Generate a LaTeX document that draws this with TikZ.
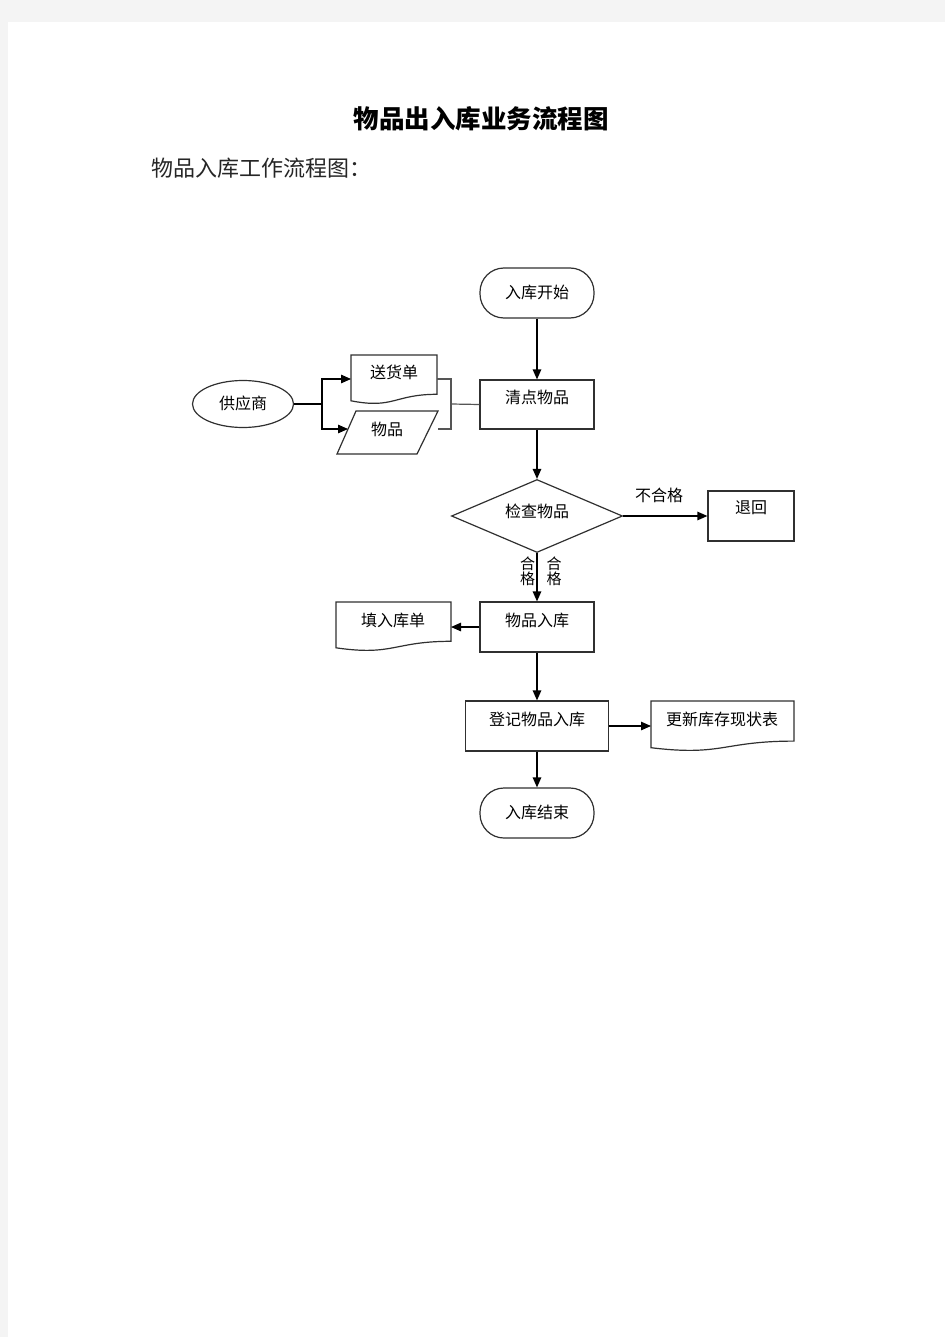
\documentclass[tikz,border=0pt]{standalone}
\usepackage{fontspec}
\newfontfamily\cjk{Noto Sans CJK SC}
\usetikzlibrary{shapes.geometric,arrows.meta,calc}
\definecolor{bgc}{HTML}{F4F4F4}
\definecolor{linec}{HTML}{303030}
\definecolor{brc}{HTML}{555555}
\tikzset{
  shp/.style={draw=linec, line width=1.2pt, fill=white, inner sep=0pt},
  box/.style={shp, rectangle, minimum width=#1, minimum height=50pt},
  term/.style={shp, rectangle, rounded corners=24pt, minimum width=114pt, minimum height=50pt},
  txt/.style={font=\cjk\fontsize{16pt}{17pt}\selectfont, inner sep=0pt},
  smalltxt/.style={font=\cjk\fontsize{15pt}{13pt}\selectfont, inner sep=0pt, align=center},
  arr/.style={line width=1.2pt, draw=black, -{Triangle[length=10pt,width=8.5pt]}},
  plain/.style={line width=1.2pt, draw=black},
  bracketline/.style={line width=1.2pt, draw=brc},
  docpath/.style={draw=linec, line width=1.2pt, fill=white},
}
\begin{document}
\begin{tikzpicture}[x=1pt,y=-1pt]
\fill[bgc] (0,0) rectangle (945,1337);
\fill[white] (8,22) rectangle (945,1337);
\useasboundingbox (0,0) rectangle (945,1337);

% headings
\node[inner sep=0pt, font=\cjk\bfseries\fontsize{25.5pt}{27pt}\selectfont] (title) at (481,119) {物品出入库业务流程图};
\node[inner sep=0pt, anchor=west, font=\cjk\fontsize{22pt}{24pt}\selectfont, text=black!85] (sub) at (151,168) {物品入库工作流程图：};

% start
\node[term] (start) at (537,293) {};
\node[txt] (tstart) at (537,292) {入库开始};

% count goods
\node[box=114pt, minimum height=49pt] (count) at (537,404.5) {};
\node[txt] (tcount) at (537,397) {清点物品};
\draw[arr] (start.south) -- (count.north);

% supplier
\node[shp, ellipse, minimum width=101pt, minimum height=47pt] (sup) at (243,404) {};
\node[txt] (tsup) at (243,403) {供应商};

% delivery note (document shape)
\draw[docpath] (351,355) -- (437,355) -- (437,394.3)
  .. controls (394,394.3) and (394,409.2) .. (351,400.8) -- cycle;
\node[txt] (tdoc1) at (394,372) {送货单};
\coordinate (d1w) at (351,379);
\coordinate (d1e) at (437,379);

% goods (parallelogram)
\draw[docpath] (356,411) -- (438,411) -- (417,454) -- (337,454) -- cycle;
\node[txt] (tpar) at (387,429) {物品};
\coordinate (pw) at (348,429);
\coordinate (pe) at (438,429);

% branch from supplier
\coordinate (br) at (322,404);
\draw[plain] (sup.east) -- (br);
\draw[arr] (br) |- (d1w);
\draw[arr] (br) |- (pw);

% bracket
\coordinate (bt) at (451,379);
\coordinate (bb) at (451,429);
\coordinate (bm) at (451,404);
\draw[bracketline] (d1e) -- (bt) -- (bb) -- (pe);
\draw[bracketline] (bm) -- (count.west);

% check diamond
\node[shp, diamond, shape aspect=2.342, minimum width=171pt, minimum height=73pt] (chk) at (537,516) {};
\node[txt] (tchk) at (537,511) {检查物品};
\draw[arr] (count.south) -- (chk.north);

% return
\node[box=86pt] (ret) at (751,516) {};
\node[txt] (tret) at (751,508) {退回};
\draw[arr] (chk.east) -- (ret.west);
\node[txt] (lno) at (659,495) {不合格};

% goods in
\node[box=114pt] (in) at (537,627) {};
\node[txt] (tin) at (537,620) {物品入库};
\draw[arr] (chk.south) -- (in.north);
\node[smalltxt] (lok1) at (527.5,571) {合\\格};
\node[smalltxt] (lok2) at (554,571) {合\\格};

% fill in form (document)
\draw[docpath] (336,602) -- (451,602) -- (451,641.3)
  .. controls (393.5,641.3) and (393.5,656.2) .. (336,647.8) -- cycle;
\node[txt] (tfill) at (393,620) {填入库单};
\coordinate (fille) at (451,627);
\draw[arr] (in.west) -- (fille);

% register
\node[box=143pt] (reg) at (537,726) {};
\node[txt] (treg) at (537,719) {登记物品入库};
\draw[arr] (in.south) -- (reg.north);

% update table (document)
\draw[docpath] (651,701) -- (794,701) -- (794,741.1)
  .. controls (722.5,741.1) and (722.5,756.4) .. (651,747.7) -- cycle;
\node[txt] (tupd) at (722,719) {更新库存现状表};
\coordinate (updw) at (651,726);
\draw[arr] (reg.east) -- (updw);

% end
\node[term] (end) at (537,813) {};
\node[txt] (tend) at (537,812) {入库结束};
\draw[arr] (reg.south) -- (end.north);
\end{tikzpicture}
\end{document}
